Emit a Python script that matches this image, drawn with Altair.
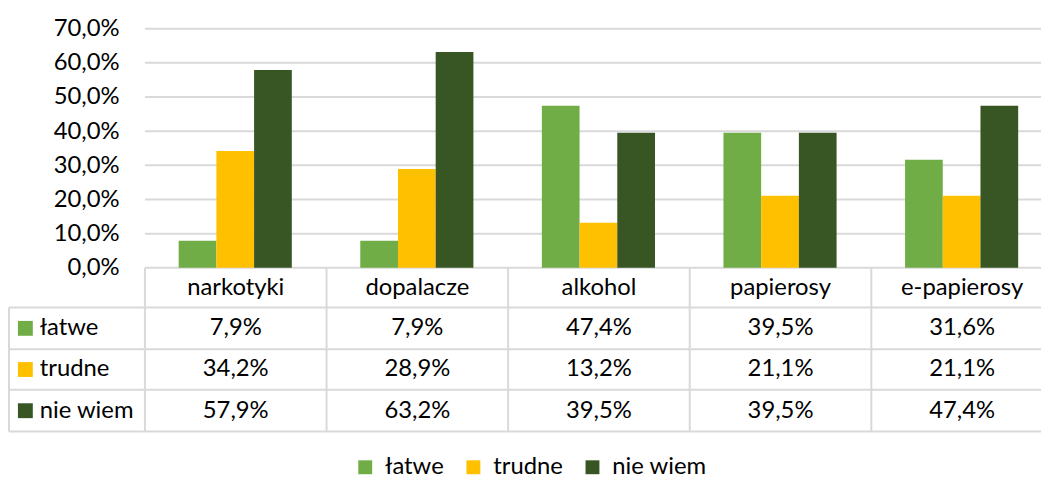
import altair as alt
import pandas as pd

# ---- data ----
categories = ["narkotyki", "dopalacze", "alkohol", "papierosy", "e-papierosy"]
series = ["łatwe", "trudne", "nie wiem"]
latwe = [0.079, 0.079, 0.474, 0.395, 0.316]
trudne = [0.342, 0.289, 0.132, 0.211, 0.211]
nie_wiem = [0.579, 0.632, 0.395, 0.395, 0.474]
y_ticks = [0.0, 0.1, 0.2, 0.3, 0.4, 0.5, 0.6, 0.7]
colors = ["#70AD47", "#FFC000", "#375623"]

values = [latwe, trudne, nie_wiem]

# ---- layout constants ----
COL = 183.0                 # px per category column
PLOT_W = 1040
PLOT_H = 406
PX = 241 / 0.7              # px per unit of y
Y_MIN = -(PLOT_H - 241) / PX
X_MIN = -137 / COL
X_MAX = X_MIN + PLOT_W / COL
row_edges = [-e / PX for e in (0, 40, 82, 123, 165)]
row_mid = [(row_edges[k] + row_edges[k + 1]) / 2 for k in range(4)]
BAR_W = 38 / COL
BAR_START = 34 / COL
FONT = "Lato"
FS = 24
TXT = "#000000"
LINE = "#D9D9D9"

fmt = "replace(format(datum.v, '.1%'), '.', ',')"

xs = alt.Scale(domain=[X_MIN, X_MAX], nice=False, zero=False)
ys = alt.Scale(domain=[Y_MIN, 0.7], nice=False, zero=False)
cs = alt.Scale(domain=series, range=colors)

# bars
bar_rows = []
for i, c in enumerate(categories):
    for j, s in enumerate(series):
        x0 = i + BAR_START + j * BAR_W
        bar_rows.append({"cat": c, "s": s, "x": x0, "x2": x0 + BAR_W, "v": values[j][i], "y0": 0.0})
bars_df = pd.DataFrame(bar_rows)

# lines (gridlines + table)
seg = []
for t in y_ticks:
    seg.append({"x": 0.0, "x2": X_MAX, "y": t, "y2": t})
for e in row_edges[1:]:
    seg.append({"x": X_MIN, "x2": X_MAX, "y": e, "y2": e})
for i in range(len(categories)):
    seg.append({"x": float(i), "x2": float(i), "y": 0.0, "y2": row_edges[-1]})
seg.append({"x": X_MIN, "x2": X_MIN, "y": row_edges[1], "y2": row_edges[-1]})
seg_df = pd.DataFrame(seg)

# table text
head_df = pd.DataFrame({"x": [i + 0.5 for i in range(len(categories))],
                        "y": [row_mid[0]] * len(categories),
                        "t": categories})
cell_rows = []
for j, s in enumerate(series):
    for i, c in enumerate(categories):
        cell_rows.append({"x": i + 0.5, "y": row_mid[j + 1], "v": values[j][i]})
cell_df = pd.DataFrame(cell_rows)
lab_df = pd.DataFrame({"s": series,
                       "xs": [(25.5 - 146) / COL] * 3,
                       "xt": [(40 - 146) / COL] * 3,
                       "y": row_mid[1:]})

y_axis = alt.Axis(values=y_ticks,
                  labelExpr="replace(format(datum.value, '.1%'), '.', ',')",
                  grid=False, domain=False, ticks=False, offset=-137,
                  labelPadding=26, labelFontSize=FS, labelColor=TXT, title=None)

lines = alt.Chart(seg_df).mark_rule(color=LINE, strokeWidth=2).encode(
    x=alt.X("x:Q", scale=xs, axis=None), x2="x2:Q",
    y=alt.Y("y:Q", scale=ys, axis=y_axis), y2="y2:Q")

bars = alt.Chart(bars_df).mark_bar().encode(
    x=alt.X("x:Q", scale=xs, axis=None), x2="x2:Q",
    y=alt.Y("v:Q", scale=ys), y2="y0:Q",
    color=alt.Color("s:N", scale=cs, sort=series,
                    legend=alt.Legend(title=None, orient="none", direction="horizontal",
                                      legendX=347, legendY=430, symbolType="square",
                                      symbolSize=196, symbolStrokeWidth=0,
                                      labelFontSize=FS, labelColor=TXT, labelOffset=8,
                                      columnPadding=17, padding=0)))

heads = alt.Chart(head_df).mark_text(fontSize=FS, color=TXT).encode(
    x=alt.X("x:Q", scale=xs, axis=None), y=alt.Y("y:Q", scale=ys), text="t:N")

cells = alt.Chart(cell_df).transform_calculate(lbl=fmt).mark_text(fontSize=FS, color=TXT).encode(
    x=alt.X("x:Q", scale=xs, axis=None), y=alt.Y("y:Q", scale=ys), text="lbl:N")

squares = alt.Chart(lab_df).mark_square(size=225, opacity=1).encode(
    x=alt.X("xs:Q", scale=xs, axis=None), y=alt.Y("y:Q", scale=ys),
    color=alt.Color("s:N", scale=cs, sort=series))

row_labels = alt.Chart(lab_df).mark_text(fontSize=FS, color=TXT, align="left").encode(
    x=alt.X("xt:Q", scale=xs, axis=None), y=alt.Y("y:Q", scale=ys), text="s:N")

chart = alt.layer(lines, bars, heads, cells, squares, row_labels).properties(
    width=PLOT_W, height=PLOT_H,
    autosize=alt.AutoSizeParams(type="none"),
    padding={"left": 1, "top": 19, "right": 0, "bottom": 45},
).configure(font=FONT).configure_view(stroke=None)

chart.save("out.html", embed_options={"renderer": "svg", "actions": False})
